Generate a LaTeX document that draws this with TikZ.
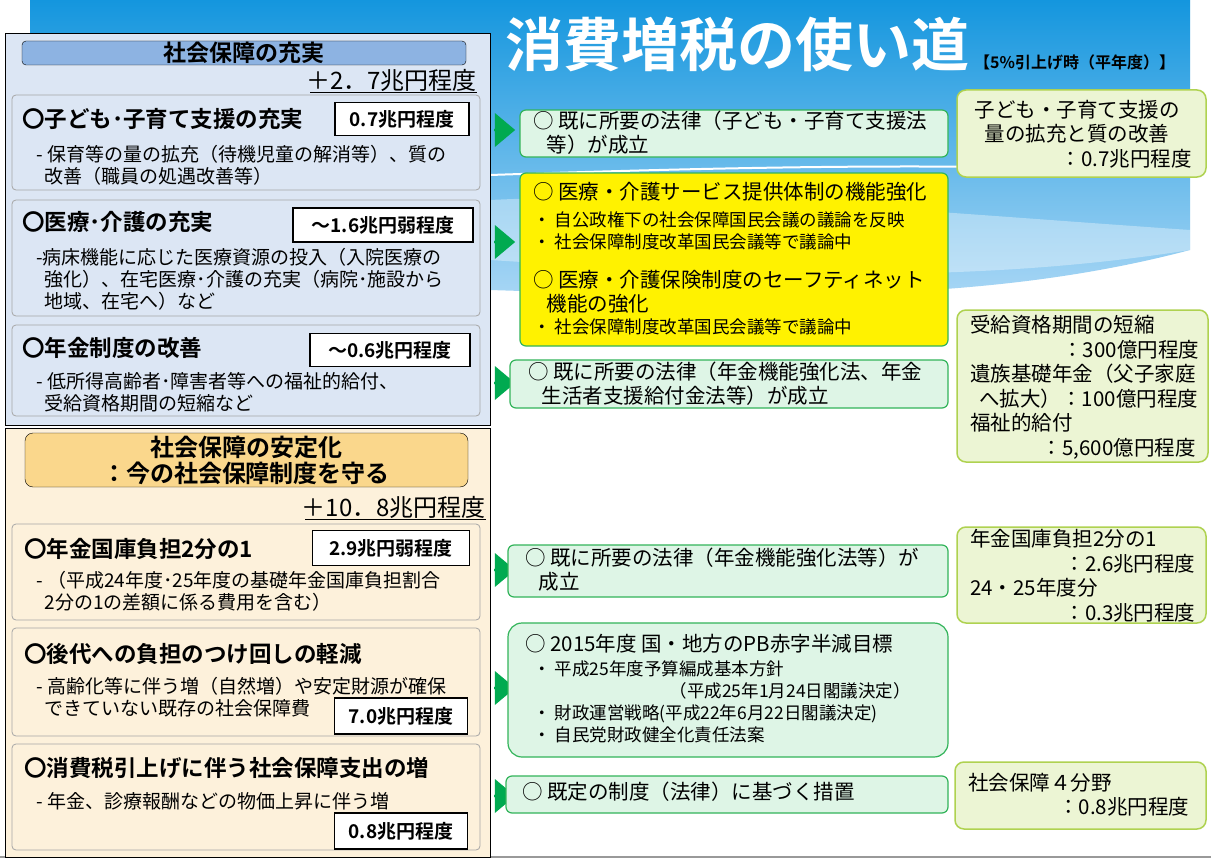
\documentclass[tikz,border=0pt]{standalone}
\usepackage{fontspec}
\setmainfont{Noto Sans CJK JP}
\newfontfamily\jb{Noto Sans CJK JP Bold}
\usetikzlibrary{shapes.arrows,calc}
\definecolor{bgblue}{RGB}{20,150,222}
\definecolor{ltblue}{RGB}{170,215,245}
\definecolor{pan1}{RGB}{220,230,244}
\definecolor{hdr1}{RGB}{141,179,226}
\definecolor{pan2}{RGB}{253,241,219}
\definecolor{hdr2}{RGB}{250,215,140}
\definecolor{mgreen}{RGB}{222,245,230}
\definecolor{gline}{RGB}{50,180,90}
\definecolor{rfill}{RGB}{236,245,212}
\definecolor{rline}{RGB}{175,210,80}
\definecolor{arr}{RGB}{0,170,80}
\begin{document}
\begin{tikzpicture}[x=1pt,y=-1pt,
  sub/.style={draw=gray!70,rounded corners=4pt,line width=0.8pt},
  valbox/.style={draw=black,line width=1.4pt,fill=white,inner sep=0pt},
  mid/.style={draw=gline,line width=1.2pt,fill=mgreen,rounded corners=6pt},
  rbox/.style={draw=rline,line width=1.5pt,fill=rfill,rounded corners=9pt},
  garrow/.style={single arrow,fill=arr,draw=none,minimum width=34pt,single arrow head extend=3pt,minimum height=21pt,inner sep=0pt,single arrow tip angle=80},
  hd/.style={font=\jb\fontsize{22.5}{26}\selectfont,anchor=west,inner sep=0pt},
  bd/.style={font=\fontsize{19}{22}\selectfont,anchor=north west,align=left,inner sep=0pt},
  mt/.style={font=\fontsize{20.5}{24}\selectfont,anchor=north west,align=left,inner sep=0pt},
  sm/.style={font=\fontsize{17.5}{22}\selectfont,anchor=north west,align=left,inner sep=0pt},
  rt/.style={font=\fontsize{20.5}{24.5}\selectfont,anchor=north west,align=left,inner sep=0pt},
  vt/.style={font=\jb\fontsize{19}{20}\selectfont}]
\useasboundingbox (0,0) rectangle (1211,859);
\fill[white] (0,0) rectangle (1211,859);
% background band
\shade[top color=bgblue,bottom color=ltblue] (30,0) -- (1190,0) -- (1190,250) .. controls (1000,300) and (800,300) .. (490,290) -- (30,290) -- cycle;
\draw[white,line width=2pt] (490,175) .. controls (700,168) and (1000,160) .. (1190,175);
\fill[white,opacity=0.35] (490,200) .. controls (700,190) and (900,210) .. (1190,230) -- (1190,250) .. controls (1000,280) and (800,280) .. (490,260) -- cycle;
\draw[gray!80,line width=2pt] (0,857) -- (1211,857);
% title
\node[font=\jb\fontsize{58}{62}\selectfont,text=white,anchor=west,inner sep=0pt] (title) at (505,44) {消費増税の使い道};
\node[font=\jb\fontsize{16}{18}\selectfont,anchor=west,inner sep=0pt] (sub) at (974,62) {【5\%引上げ時（平年度）】};
% panel 1
\draw[black,fill=pan1,line width=0.8pt] (5,33) rectangle (490,425);
\draw[black,fill=hdr1,rounded corners=4pt] (22,41) rectangle (466,65);
\node[font=\jb\fontsize{23}{24}\selectfont] (h1) at (244,53) {社会保障の充実};
\node[font=\fontsize{24}{26}\selectfont,anchor=east,inner sep=0pt] (t1) at (477,80) {＋2．7兆円程度};
\draw (310,92) -- (477,92);
\draw[sub,fill=pan1] (12,95) rectangle (480,190);
\draw[sub,fill=pan1] (12,200) rectangle (480,316);
\draw[sub,fill=pan1] (12,325) rectangle (480,416);
\node[hd] (a1) at (22,119) {〇子ども･子育て支援の充実};
\node[bd] (a1b) at (36,145) {- 保育等の量の拡充（待機児童の解消等）、質の\\\ \ 改善（職員の処遇改善等）};
\node[valbox,minimum width=134pt,minimum height=33pt,vt] (v1) at (402,119) {0.7兆円程度};
\node[hd] (a2) at (22,222) {〇医療･介護の充実};
\node[bd] (a2b) at (36,248) {-病床機能に応じた医療資源の投入（入院医療の\\\ \ 強化）、在宅医療･介護の充実（病院･施設から\\\ \ 地域、在宅へ）など};
\node[valbox,minimum width=180pt,minimum height=34pt,vt] (v2) at (383,225) {～1.6兆円弱程度};
\node[hd] (a3) at (22,348) {〇年金制度の改善};
\node[bd] (a3b) at (36,372) {- 低所得高齢者･障害者等への福祉的給付、\\\ \ 受給資格期間の短縮など};
\node[valbox,minimum width=160pt,minimum height=33pt,vt] (v3) at (390,350) {～0.6兆円程度};
% panel 2
\draw[black,fill=pan2,line width=0.8pt] (5,428) rectangle (490,857);
\draw[black,fill=hdr2,rounded corners=8pt] (25,433) rectangle (468,487);
\node[font=\jb\fontsize{24}{26}\selectfont,align=center] (h2) at (246,460) {社会保障の安定化\\：今の社会保障制度を守る};
\node[font=\fontsize{24}{26}\selectfont,anchor=east,inner sep=0pt] (t2) at (486,507) {＋10．8兆円程度};
\draw (305,519) -- (486,519);
\draw[sub,fill=pan2] (12,524) rectangle (480,620);
\draw[sub,fill=pan2] (12,628) rectangle (480,736);
\draw[sub,fill=pan2] (12,744) rectangle (480,850);
\node[hd] (b1) at (24,549) {〇年金国庫負担2分の1};
\node[bd] (b1b) at (36,571) {- （平成24年度･25年度の基礎年金国庫負担割合\\\ \ 2分の1の差額に係る費用を含む）};
\node[valbox,minimum width=157pt,minimum height=35pt,vt] (v4) at (391,548) {2.9兆円弱程度};
\node[hd] (b2) at (24,654) {〇後代への負担のつけ回しの軽減};
\node[bd] (b2b) at (36,677) {- 高齢化等に伴う増（自然増）や安定財源が確保\\\ \ できていない既存の社会保障費};
\node[valbox,minimum width=133pt,minimum height=36pt,vt] (v5) at (401,716) {7.0兆円程度};
\node[hd] (b3) at (24,768) {〇消費税引上げに伴う社会保障支出の増};
\node[bd] (b3b) at (36,792) {- 年金、診療報酬などの物価上昇に伴う増};
\node[valbox,minimum width=133pt,minimum height=36pt,vt] (v6) at (401,831) {0.8兆円程度};
% arrows
\foreach \y/\n in {130/r1,242/r2,383/r3,570/r4,688/r5,796/r6}
  \node[garrow] (\n) at (504,\y) {};
% middle boxes
\draw[mid] (520,110) rectangle (948,157);
\node[mt] (m1) at (533,111) {○ 既に所要の法律（子ども・子育て支援法\\\ \ \ 等）が成立};
\draw[mid,fill=yellow] (520,173) rectangle (948,346);
\node[mt] (m2) at (533,182) {○ 医療・介護サービス提供体制の機能強化};
\node[sm] (m2b) at (533,212) {・ 自公政権下の社会保障国民会議の議論を反映\\・ 社会保障制度改革国民会議等で議論中};
\node[mt] (m2c) at (533,270) {○ 医療・介護保険制度のセーフティネット\\\ \ \ 機能の強化};
\node[sm] (m2d) at (533,319) {・ 社会保障制度改革国民会議等で議論中};
\draw[mid] (510,360) rectangle (948,408);
\node[mt] (m3) at (528,362) {○ 既に所要の法律（年金機能強化法、年金\\\ \ \ 生活者支援給付金法等）が成立};
\draw[mid] (508,545) rectangle (948,597);
\node[mt] (m4) at (525,548) {○ 既に所要の法律（年金機能強化法等）が\\\ \ \ 成立};
\draw[mid,rounded corners=14pt] (508,623) rectangle (948,757);
\node[mt] (m5) at (525,634) {○ 2015年度 国・地方のPB赤字半減目標};
\node[sm] (m5b) at (533,661) {・ 平成25年度予算編成基本方針\\\hspace*{7.8em}（平成25年1月24日閣議決定）\\・ 財政運営戦略(平成22年6月22日閣議決定)\\・ 自民党財政健全化責任法案};
\draw[mid] (506,776) rectangle (948,813);
\node[mt] (m6) at (522,782) {○ 既定の制度（法律）に基づく措置};
% right boxes
\draw[rbox] (957,90) rectangle (1206,177);
\node[rt,align=center,anchor=north] (q1) at (1077,100) {子ども・子育て支援の\\量の拡充と質の改善};
\node[rt,anchor=north east] (q1b) at (1192,149) {：0.7兆円程度};
\draw[rbox] (957,310) rectangle (1208,462);
\node[rt] (q2) at (970,315) {受給資格期間の短縮\\\hspace*{4.5em}：300億円程度\\遺族基礎年金（父子家庭\\\ \ へ拡大）：100億円程度\\福祉的給付\\\hspace*{3.5em}：5,600億円程度};
\draw[rbox] (957,527) rectangle (1206,623);
\node[rt] (q3) at (970,529) {年金国庫負担2分の1\\\hspace*{4.6em}：2.6兆円程度\\24・25年度分\\\hspace*{4.6em}：0.3兆円程度};
\draw[rbox] (955,762) rectangle (1206,829);
\node[rt] (q4) at (968,773) {社会保障４分野\\\hspace*{4.4em}：0.8兆円程度};
\end{tikzpicture}
\end{document}
